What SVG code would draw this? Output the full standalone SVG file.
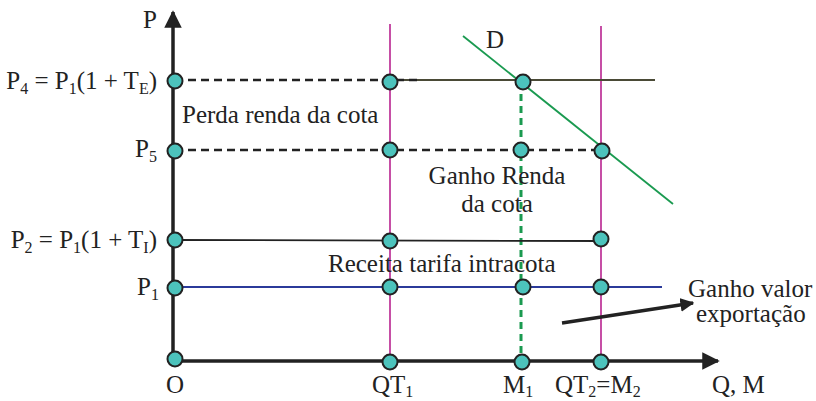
<svg xmlns="http://www.w3.org/2000/svg" width="816" height="401" viewBox="0 0 816 401">
<style>
text{font-family:"Liberation Serif","Times New Roman",serif;font-size:25px;fill:#222}
.sub{font-size:16px}
.pt{fill:#4cc3bc;stroke:#222;stroke-width:2}
.axis{stroke:#222;stroke-width:3.5;fill:none}
.dash{stroke:#222;stroke-width:2.5;stroke-dasharray:8,5;fill:none}
.pink{stroke:#c03b9c;stroke-width:1.8}
</style>
<defs>
<marker id="ah" viewBox="0 0 10 10" refX="9" refY="5" markerWidth="5" markerHeight="5" orient="auto" markerUnits="strokeWidth"><path d="M0,0 L10,5 L0,10 z" fill="#222"/></marker>
<marker id="ah2" viewBox="0 0 10 10" refX="9" refY="5" markerWidth="4" markerHeight="4" orient="auto" markerUnits="strokeWidth"><path d="M0,0 L10,5 L0,10 z" fill="#222"/></marker>
</defs>
<g id="connectors">
<line class="pink" x1="390" y1="24" x2="390" y2="361"/>
<line class="pink" x1="601" y1="26" x2="601" y2="361"/>
<line x1="463" y1="36" x2="673" y2="204" stroke="#1a9a50" stroke-width="1.8"/>
<line x1="521" y1="82" x2="521" y2="361" stroke="#1a9a50" stroke-width="3" stroke-dasharray="7,5"/>
<line x1="390" y1="80" x2="655" y2="80" stroke="#4a4a36" stroke-width="1.8"/>
<line class="dash" x1="175" y1="80" x2="420" y2="80"/>
<line class="dash" x1="175" y1="150" x2="600" y2="150"/>
<line x1="175" y1="240" x2="601" y2="241" stroke="#222" stroke-width="1.8"/>
<line x1="175" y1="287" x2="662" y2="287" stroke="#2b3a9a" stroke-width="1.8"/>
<line class="axis" x1="173" y1="361" x2="173" y2="12" marker-end="url(#ah)"/>
<line class="axis" x1="173" y1="361" x2="718" y2="361" marker-end="url(#ah)"/>
<line x1="562" y1="323" x2="693" y2="303" stroke="#222" stroke-width="3.5" marker-end="url(#ah2)"/>
</g>
<g id="points">
<circle class="pt" cx="175" cy="81" r="7.5"/>
<circle class="pt" cx="175" cy="151" r="7.5"/>
<circle class="pt" cx="175" cy="240" r="7.5"/>
<circle class="pt" cx="175" cy="288" r="7.5"/>
<circle class="pt" cx="175" cy="359" r="7.5"/>
<circle class="pt" cx="390" cy="82" r="7.5"/>
<circle class="pt" cx="390" cy="150" r="7.5"/>
<circle class="pt" cx="390" cy="241" r="7.5"/>
<circle class="pt" cx="390" cy="287" r="7.5"/>
<circle class="pt" cx="390" cy="362" r="7.5"/>
<circle class="pt" cx="523" cy="82" r="7.5"/>
<circle class="pt" cx="521" cy="150" r="7.5"/>
<circle class="pt" cx="523" cy="287" r="7.5"/>
<circle class="pt" cx="522" cy="362" r="7.5"/>
<circle class="pt" cx="602" cy="151" r="7.5"/>
<circle class="pt" cx="601" cy="239" r="7.5"/>
<circle class="pt" cx="601" cy="287" r="7.5"/>
<circle class="pt" cx="601" cy="362" r="7.5"/>
</g>
<g id="labels">
<text x="143" y="28">P</text>
<text x="157" y="89" text-anchor="end">P<tspan class="sub" dy="5">4</tspan><tspan dy="-5"> = P</tspan><tspan class="sub" dy="5">1</tspan><tspan dy="-5">(1 + T</tspan><tspan class="sub" dy="5">E</tspan><tspan dy="-5">)</tspan></text>
<text x="182" y="123">Perda renda da cota</text>
<text x="135" y="157">P<tspan class="sub" dy="5">5</tspan></text>
<text x="486" y="48">D</text>
<text x="497" y="184" text-anchor="middle">Ganho Renda</text>
<text x="497" y="212" text-anchor="middle">da cota</text>
<text x="157" y="248" text-anchor="end">P<tspan class="sub" dy="5">2</tspan><tspan dy="-5"> = P</tspan><tspan class="sub" dy="5">1</tspan><tspan dy="-5">(1 + T</tspan><tspan class="sub" dy="5">I</tspan><tspan dy="-5">)</tspan></text>
<text x="328" y="272">Receita tarifa intracota</text>
<text x="137" y="295">P<tspan class="sub" dy="5">1</tspan></text>
<text x="688" y="297">Ganho valor</text>
<text x="696" y="322">exportação</text>
<text x="166" y="393">O</text>
<text x="372" y="393">QT<tspan class="sub" dy="4">1</tspan></text>
<text x="503" y="393">M<tspan class="sub" dy="4">1</tspan></text>
<text x="555" y="393">QT<tspan class="sub" dy="4">2</tspan><tspan dy="-4">=M</tspan><tspan class="sub" dy="4">2</tspan></text>
<text x="712" y="393">Q, M</text>
</g>
</svg>
